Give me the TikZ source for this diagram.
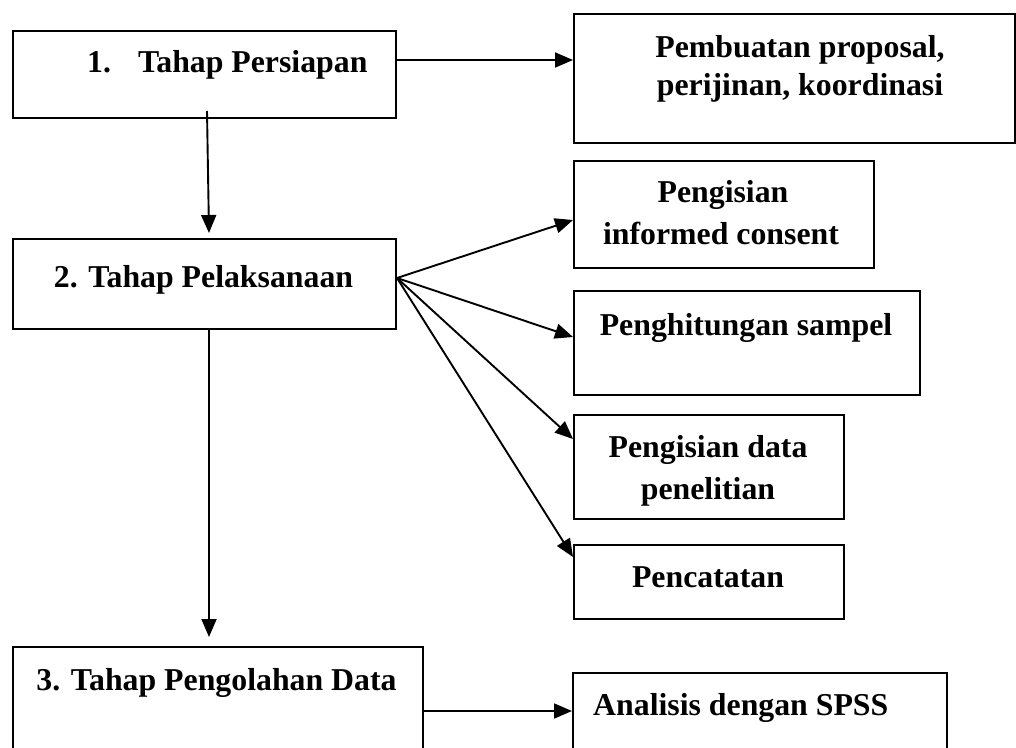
\documentclass[tikz,border=0pt]{standalone}
\usepackage{fontspec}
\setmainfont{Liberation Serif}
\usetikzlibrary{arrows.meta}

\tikzset{
  box/.style={draw, rectangle, line width=2pt, inner sep=0pt, anchor=north west},
  lbl/.style={anchor=base, inner sep=0pt, font=\fontsize{31.8}{36}\selectfont\bfseries},
  arr/.style={line width=1.9pt, -{Triangle[length=18pt,width=15pt]}},
}

\begin{document}
\begin{tikzpicture}[x=1pt, y=-1pt]
\useasboundingbox (0,0) rectangle (1016,747);
\clip (0,0) rectangle (1016,747);

% stage boxes on the left
\node[box, minimum width=383pt, minimum height=87pt]  (b1) at (12,30)  {};
\node[box, minimum width=383pt, minimum height=90pt]  (b2) at (12,238) {};
\node[box, minimum width=410pt, minimum height=120pt] (b3) at (12,646) {};

% activity boxes on the right
\node[box, minimum width=441pt, minimum height=129pt] (bP)  at (573,13)  {};
\node[box, minimum width=300pt, minimum height=107pt] (bIC) at (573,160) {};
\node[box, minimum width=346pt, minimum height=104pt] (bPS) at (573,290) {};
\node[box, minimum width=270pt, minimum height=104pt] (bPD) at (573,414) {};
\node[box, minimum width=270pt, minimum height=74pt]  (bPc) at (573,544) {};
\node[box, minimum width=374pt, minimum height=100pt] (bA)  at (572,672) {};

% labels
\node[lbl, anchor=base west] (t1) at (87,72) {1.\hspace{27pt}Tahap Persiapan};
\node[lbl] (t2) at (203.5,287) {2. Tahap Pelaksanaan};
\node[lbl] (t3) at (216.5,690) {3. Tahap Pengolahan Data};

\node[lbl] (tP1) at (800,57) {Pembuatan proposal,};
\node[lbl] (tP2) at (800,95) {perijinan, koordinasi};
\node[lbl] (tIC1) at (723,202) {Pengisian};
\node[lbl] (tIC2) at (721,244) {informed consent};
\node[lbl] (tPS) at (746,335) {Penghitungan sampel};
\node[lbl] (tPD1) at (708,457) {Pengisian data};
\node[lbl] (tPD2) at (708,499) {penelitian};
\node[lbl] (tPc) at (708,587) {Pencatatan};
\node[lbl, anchor=base west] (tA) at (593,715) {Analisis dengan SPSS};

% connectors
\draw[arr] ([yshift=-30pt]b1.north east) -- ([yshift=-47pt]bP.north west);
\draw[arr] ([xshift=2.5pt,yshift=8pt]b1.south) -- ([xshift=4.5pt,yshift=5pt]b2.north);

\coordinate (fan) at ([yshift=-40pt]b2.north east);
\draw[arr] (fan) -- ([yshift=-60pt]bIC.north west);
\draw[arr] (fan) -- ([yshift=-47pt]bPS.north west);
\draw[arr] (fan) -- ([yshift=-25pt]bPD.north west);
\draw[arr] (fan) -- ([yshift=-13pt]bPc.north west);

\draw[arr] ([xshift=4.5pt]b2.south) -- ([xshift=-9pt,yshift=9pt]b3.north);
\draw[arr] ([yshift=-65pt]b3.north east) -- ([yshift=-39pt]bA.north west);
\end{tikzpicture}
\end{document}
